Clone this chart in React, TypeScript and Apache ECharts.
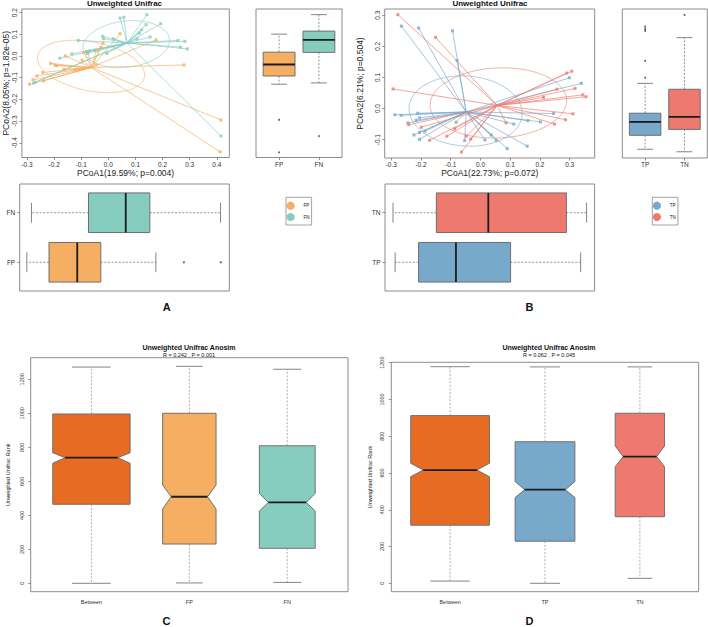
import React, { useEffect, useRef } from "react";
import * as echarts from "echarts";

// ---------- texts & categories ----------
const groupsA = ["FP", "FN"];
const groupsB = ["TP", "TN"];
const anosimGroupsC = ["Between", "FP", "FN"];
const anosimGroupsD = ["Between", "TP", "TN"];
const panelLetters = ["A", "B", "C", "D"];
const pcoaTitle = "Unweighted Unifrac";
const anosimTitle = "Unweighted Unifrac Anosim";
const anosimStatsC = "R = 0.242 , P = 0.001";
const anosimStatsD = "R = 0.062 , P = 0.045";
const pc1LabelA = "PCoA1(19.59%; p=0.004)";
const pc2LabelA = "PCoA2(8.05%; p=1.82e-05)";
const pc1LabelB = "PCoA1(22.73%; p=0.072)";
const pc2LabelB = "PCoA2(6.21%; p=0.504)";
const rankLabel = "Unweighted Unifrac Rank";

// ---------- tick labels ----------
const ticksAX = [-0.3, -0.2, -0.1, 0, 0.1, 0.2, 0.3, 0.4];
const ticksAY = [-0.4, -0.3, -0.2, -0.1, 0, 0.1, 0.2];
const ticksBX = [-0.3, -0.2, -0.1, 0, 0.1, 0.2, 0.3];
const ticksBY = [-0.1, 0, 0.1, 0.2, 0.3];
const rankTicks = [0, 200, 400, 600, 800, 1000, 1200];

// ---------- panel A: PCoA points ----------
const fpPoints = [
  [0.043, 0.103], [0.176, 0.075], [-0.020, 0.060], [-0.028, 0.040], [-0.045, 0.025],
  [-0.076, 0.018], [-0.090, 0.016], [-0.096, -0.020], [-0.159, 0.001], [-0.213, -0.034],
  [-0.198, -0.041], [-0.191, -0.045], [-0.164, -0.061], [-0.124, -0.064], [-0.111, -0.061],
  [-0.094, -0.059], [-0.045, -0.041], [-0.242, -0.076], [-0.264, -0.092], [-0.278, -0.110],
  [-0.291, -0.130], [-0.240, -0.115], [0.279, -0.041], [0.415, -0.295], [0.412, -0.442],
];
const fnPoints = [
  [0.043, 0.175], [0.057, 0.179], [0.142, 0.191], [0.193, 0.149], [0.139, 0.145],
  [0.123, 0.121], [0.114, 0.106], [0.154, 0.088], [0.106, 0.080], [0.257, 0.072],
  [0.282, 0.068], [0.266, 0.041], [0.291, 0.033], [0.415, -0.369], [-0.111, 0.072],
  [-0.021, 0.091], [-0.018, 0.080], [0.018, 0.080], [-0.069, 0.024], [-0.081, 0.021],
  [-0.077, 0.012], [-0.135, 0.010], [-0.006, 0.012], [-0.179, -0.010], [-0.276, -0.125],
  [-0.269, -0.121], [-0.050, 0.028],
];
const fpCentroid = [-0.063, -0.053];
const fnCentroid = [0.069, 0.060];
// ellipse: centre x, centre y, axis-1 vector (x,y), axis-2 vector (x,y)
const fpEllipse = [-0.064, -0.048, 0.197, -0.030, -0.015, 0.117];
const fnEllipse = [0.066, 0.055, 0.159, 0.005, 0.017, 0.108];

// box stats: [lower whisker, Q1, median, Q3, upper whisker]
const fpBoxPC2 = [-0.130, -0.092, -0.039, 0.018, 0.101];
const fnBoxPC2 = [-0.124, 0.017, 0.075, 0.115, 0.191];
const fpOutPC2 = [-0.294, -0.444];
const fnOutPC2 = [-0.369];
const fpBoxPC1 = [-0.293, -0.212, -0.109, -0.023, 0.178];
const fnBoxPC1 = [-0.276, -0.068, 0.068, 0.156, 0.414];
const fpOutPC1 = [0.280, 0.415];
const fnOutPC1: number[] = [];

// ---------- panel B: PCoA points ----------
const tpPoints = [
  [-0.266, 0.265], [-0.208, 0.259], [-0.094, 0.250], [-0.079, 0.155], [-0.288, -0.020],
  [-0.267, -0.022], [-0.211, -0.015], [-0.205, -0.030], [-0.216, -0.038], [-0.244, -0.046],
  [-0.187, -0.073], [-0.205, -0.077], [-0.224, -0.085], [-0.205, -0.099], [-0.082, -0.044],
  [-0.053, -0.103], [0.036, -0.085], [0.015, -0.101], [0.299, 0.099], [0.339, 0.081],
  [0.246, -0.016], [0.202, -0.043], [0.159, -0.039], [0.112, -0.050], [0.157, -0.121],
  [0.090, -0.129], [0.053, -0.103],
];
const tnPoints = [
  [-0.278, 0.302], [-0.151, 0.229], [-0.294, 0.063], [-0.241, -0.052], [-0.199, -0.060],
  [-0.171, -0.102], [-0.113, -0.089], [-0.087, -0.065], [-0.064, -0.140], [-0.048, -0.089],
  [-0.033, -0.098], [0.290, 0.114], [0.307, 0.120], [0.318, 0.065], [0.344, 0.044],
  [0.355, 0.038], [0.257, 0.062], [0.212, 0.036], [0.311, -0.017], [0.286, -0.036],
  [0.249, -0.050], [0.086, -0.046],
];
const tpCentroid = [-0.048, -0.011];
const tnCentroid = [0.056, 0.010];
const tpEllipse = [-0.050, -0.008, 0.190, -0.003, -0.008, 0.113];
const tnEllipse = [0.060, 0.018, 0.229, 0.0, 0.015, 0.113];

const tpBoxPC2 = [-0.131, -0.086, -0.043, -0.015, 0.081];
const tnBoxPC2 = [-0.139, -0.067, -0.027, 0.062, 0.228];
const tpOutPC2 = [0.099, 0.153, 0.250, 0.255, 0.263];
const tnOutPC2 = [0.301];
const tpBoxPC1 = [-0.288, -0.209, -0.083, 0.101, 0.337];
const tnBoxPC1 = [-0.295, -0.149, 0.026, 0.289, 0.357];

// ---------- panels C, D: ANOSIM ranks ----------
const betweenRankC = [0, 465, 739, 996, 1272];
const fpRankC = [2, 231, 509, 1000, 1276];
const fnRankC = [5, 206, 476, 809, 1259];
const notchC = [[706, 768], [437, 578], [425, 529]];
const betweenRankD = [12, 316, 616, 912, 1178];
const tpRankD = [0, 229, 509, 770, 1177];
const tnRankD = [27, 362, 689, 925, 1177];
const notchD = [[580, 653], [466, 553], [634, 747]];

// ---------- styles ----------
const C_FP = "#F5AE62";
const C_FN = "#86CDBF";
const C_TP = "#78A9CB";
const C_TN = "#EE7A6F";
const C_BETWEEN = "#E86B24";
const FONT = "'Liberation Sans', Arial, Helvetica, sans-serif";
const FRAME = "#8c8c8c";
const relWidthC = [0.79, 0.545, 0.57];
const relWidthD = [0.83, 0.63, 0.52];

function ellipsePoints(e: number[]) {
  const [cx, cy, ax, ay, bx, by] = e;
  const pts: number[][] = [];
  for (let i = 0; i <= 120; i++) {
    const t = (i / 120) * Math.PI * 2;
    pts.push([cx + ax * Math.cos(t) + bx * Math.sin(t), cy + ay * Math.cos(t) + by * Math.sin(t)]);
  }
  return pts;
}

function makeBoxRenderer(horizontal: boolean, notched: boolean, opt: any) {
  return (params: any, api: any) => {
    const pos = api.value(0);
    const lo = api.value(1), q1 = api.value(2), med = api.value(3), q3 = api.value(4), hi = api.value(5);
    const w = api.value(6);
    const P = (o: number, v: number) => (horizontal ? api.coord([v, pos + o]) : api.coord([pos + o, v]));
    const half = w / 2;
    const ins = notched ? half * opt.notchFrac : 0;
    const color = api.visual("color");
    let pts: number[][];
    if (notched) {
      const n1 = api.value(7), n2 = api.value(8);
      pts = [P(-half, q1), P(half, q1), P(half, n1), P(half - ins, med), P(half, n2), P(half, q3),
        P(-half, q3), P(-half, n2), P(-half + ins, med), P(-half, n1)];
    } else {
      pts = [P(-half, q1), P(half, q1), P(half, q3), P(-half, q3)];
    }
    const seg = (a: number[], b: number[], style: any) => ({
      type: "line", shape: { x1: a[0], y1: a[1], x2: b[0], y2: b[1] }, style,
    });
    const wStyle = { stroke: opt.whisker, lineWidth: 0.8, lineDash: [2, 1.6] };
    const cStyle = { stroke: opt.cap, lineWidth: 0.9 };
    return {
      type: "group",
      children: [
        seg(P(0, q3), P(0, hi), wStyle),
        seg(P(0, q1), P(0, lo), wStyle),
        seg(P(-half / 2, hi), P(half / 2, hi), cStyle),
        seg(P(-half / 2, lo), P(half / 2, lo), cStyle),
        { type: "polygon", shape: { points: pts }, style: { fill: color, stroke: opt.border, lineWidth: 1 } },
        seg(P(-half + ins, med), P(half - ins, med), { stroke: "#1c1c1c", lineWidth: 1.8 }),
      ],
    };
  };
}

const grids = [
  { left: 19.7, top: 9, width: 209.6, height: 148.5 }, // 0 A scatter
  { left: 256, top: 9, width: 86, height: 148.5 }, // 1 A side box
  { left: 19.7, top: 184, width: 209.6, height: 107 }, // 2 A bottom box
  { left: 384.7, top: 9, width: 210, height: 149 }, // 3 B scatter
  { left: 622.3, top: 9, width: 85, height: 149 }, // 4 B side box
  { left: 385, top: 184, width: 209.6, height: 107 }, // 5 B bottom box
  { left: 30.7, top: 357.7, width: 317.3, height: 234 }, // 6 C
  { left: 391.3, top: 362.3, width: 307.4, height: 229.4 }, // 7 D
].map((g) => ({ ...g, show: true, borderColor: FRAME, borderWidth: 1, backgroundColor: "transparent" }));

function axis(gridIndex: number, min: number, max: number, extra: any = {}) {
  return {
    type: "value", gridIndex, min, max,
    splitLine: { show: false }, axisLine: { show: false, onZero: false },
    axisTick: { show: false }, axisLabel: { show: false },
    ...extra,
  };
}
function ticks(values: number[], fmt: (v: number) => string, o: any = {}) {
  return {
    axisTick: { show: true, customValues: values, length: o.len ?? 2.5, lineStyle: { color: "#666", width: 0.7 } },
    axisLabel: {
      show: true, customValues: values, formatter: fmt, rotate: o.rotate ?? 0, margin: o.margin ?? 3,
      fontSize: o.fontSize ?? 6.5, color: "#333", fontFamily: FONT,
    },
  };
}
const f1 = (v: number) => v.toFixed(1);
const fi = (v: number) => String(Math.round(v));
const nameStyle = (size: number) => ({ fontSize: size, color: "#222", fontFamily: FONT });

function buildOption() {
  const xAxis = [
    axis(0, -0.319, 0.446, { ...ticks(ticksAX, f1), name: pc1LabelA, nameLocation: "middle", nameGap: 10, nameTextStyle: nameStyle(8.5) }),
    axis(1, 0.42, 2.58, ticks([1, 2], (v) => groupsA[Math.round(v) - 1])),
    axis(2, -0.319, 0.446),
    axis(3, -0.322, 0.384, { ...ticks(ticksBX, f1), name: pc1LabelB, nameLocation: "middle", nameGap: 10, nameTextStyle: nameStyle(8.5) }),
    axis(4, 0.42, 2.58, ticks([1, 2], (v) => groupsB[Math.round(v) - 1])),
    axis(5, -0.322, 0.384),
    axis(6, 0.38, 3.62, ticks([1, 2, 3], (v) => anosimGroupsC[Math.round(v) - 1], { fontSize: 5.5, margin: 7, len: 0 })),
    axis(7, 0.38, 3.62, ticks([1, 2, 3], (v) => anosimGroupsD[Math.round(v) - 1], { fontSize: 5.5, margin: 7, len: 0 })),
  ];
  const yAxis = [
    axis(0, -0.468, 0.217, { ...ticks(ticksAY, f1, { rotate: 90, margin: 4 }), name: pc2LabelA, nameLocation: "middle", nameGap: 11, nameTextStyle: nameStyle(8.5) }),
    axis(1, -0.468, 0.217),
    axis(2, 0.42, 2.58, ticks([1, 2], (v) => groupsA[Math.round(v) - 1], { margin: 4.5 })),
    axis(3, -0.159, 0.320, { ...ticks(ticksBY, f1, { rotate: 90, margin: 4 }), name: pc2LabelB, nameLocation: "middle", nameGap: 20, nameTextStyle: nameStyle(8.5) }),
    axis(4, -0.159, 0.320),
    axis(5, 0.42, 2.58, ticks([1, 2], (v) => groupsB[Math.round(v) - 1], { margin: 4.5 })),
    axis(6, -49.4, 1327, { ...ticks(rankTicks, fi, { rotate: 90, margin: 6, fontSize: 5.5 }), name: rankLabel, nameLocation: "middle", nameGap: 20, nameTextStyle: nameStyle(5.5) }),
    axis(7, -45.7, 1202, { ...ticks(rankTicks, fi, { rotate: 90, margin: 6, fontSize: 5.5 }), name: rankLabel, nameLocation: "middle", nameGap: 18, nameTextStyle: nameStyle(5.5) }),
  ];

  const series: any[] = [];
  const pcoa = (gi: number, name: string, pts: number[][], cen: number[], ell: number[], color: string) => {
    series.push({
      type: "line", xAxisIndex: gi, yAxisIndex: gi, data: ellipsePoints(ell), symbol: "none", silent: true,
      lineStyle: { color, width: 0.8, opacity: 0.75 }, z: 1,
    });
    series.push({
      type: "lines", coordinateSystem: "cartesian2d", xAxisIndex: gi, yAxisIndex: gi, silent: true,
      data: pts.map((p) => ({ coords: [cen, p] })),
      lineStyle: { color, width: 0.8, opacity: 0.85 }, z: 2,
    });
    series.push({
      type: "scatter", name, xAxisIndex: gi, yAxisIndex: gi, data: pts, symbol: "rect", symbolSize: 3,
      itemStyle: { color }, z: 3,
    });
  };
  pcoa(0, groupsA[0], fpPoints, fpCentroid, fpEllipse, C_FP);
  pcoa(0, groupsA[1], fnPoints, fnCentroid, fnEllipse, C_FN);
  pcoa(3, groupsB[0], tpPoints, tpCentroid, tpEllipse, C_TP);
  pcoa(3, groupsB[1], tnPoints, tnCentroid, tnEllipse, C_TN);

  const smallBoxOpt = { border: "#6f6f6f", whisker: "#777", cap: "#777", notchFrac: 0 };
  const boxSeries = (gi: number, horizontal: boolean, items: any[], notched: boolean, opt: any) => {
    series.push({
      type: "custom", xAxisIndex: gi, yAxisIndex: gi, renderItem: makeBoxRenderer(horizontal, notched, opt),
      data: items, encode: horizontal ? { x: [1, 5], y: 0 } : { x: 0, y: [1, 5] }, silent: true, z: 3,
    });
  };
  const outliers = (gi: number, horizontal: boolean, pos: number, vals: number[]) => {
    if (!vals.length) return;
    series.push({
      type: "scatter", xAxisIndex: gi, yAxisIndex: gi, silent: true, symbolSize: 2,
      itemStyle: { color: "#444" }, z: 4,
      data: vals.map((v) => (horizontal ? [v, pos] : [pos, v])),
    });
  };
  // A side & bottom
  boxSeries(1, false, [
    { value: [1, ...fpBoxPC2, 0.8], itemStyle: { color: C_FP } },
    { value: [2, ...fnBoxPC2, 0.8], itemStyle: { color: C_FN } },
  ], false, smallBoxOpt);
  outliers(1, false, 1, fpOutPC2);
  outliers(1, false, 2, fnOutPC2);
  boxSeries(2, true, [
    { value: [1, ...fpBoxPC1, 0.8], itemStyle: { color: C_FP } },
    { value: [2, ...fnBoxPC1, 0.8], itemStyle: { color: C_FN } },
  ], false, smallBoxOpt);
  outliers(2, true, 1, fpOutPC1);
  outliers(2, true, 2, fnOutPC1);
  // B side & bottom
  boxSeries(4, false, [
    { value: [1, ...tpBoxPC2, 0.8], itemStyle: { color: C_TP } },
    { value: [2, ...tnBoxPC2, 0.8], itemStyle: { color: C_TN } },
  ], false, smallBoxOpt);
  outliers(4, false, 1, tpOutPC2);
  outliers(4, false, 2, tnOutPC2);
  boxSeries(5, true, [
    { value: [1, ...tpBoxPC1, 0.8], itemStyle: { color: C_TP } },
    { value: [2, ...tnBoxPC1, 0.8], itemStyle: { color: C_TN } },
  ], false, smallBoxOpt);

  const bigOpt = { border: "#707070", whisker: "#9a9a9a", cap: "#777", notchFrac: 0.32 };
  const colorsC = [C_BETWEEN, C_FP, C_FN];
  const colorsD = [C_BETWEEN, C_TP, C_TN];
  boxSeries(6, false, [betweenRankC, fpRankC, fnRankC].map((s, i) => ({
    value: [i + 1, ...s, relWidthC[i], ...notchC[i]], itemStyle: { color: colorsC[i] },
  })), true, bigOpt);
  boxSeries(7, false, [betweenRankD, tpRankD, tnRankD].map((s, i) => ({
    value: [i + 1, ...s, relWidthD[i], ...notchD[i]], itemStyle: { color: colorsD[i] },
  })), true, bigOpt);

  const txt = (x: number, y: number, text: string, size: number, bold = false, align = "center") => ({
    type: "text", x, y, silent: true,
    style: { text, fontSize: size, fontWeight: bold ? "bold" : "normal", fill: "#111", align, verticalAlign: "middle", fontFamily: FONT },
  });
  const legendBox = (x: number, y: number, names: string[], colors: string[]) => [
    { type: "rect", shape: { x, y, width: 25.6, height: 27.7 }, style: { fill: "#fff", stroke: "#8c8c8c", lineWidth: 0.8 }, silent: true },
    ...names.map((n, i) => ({ type: "circle", shape: { cx: x + 4.6, cy: y + 8.4 + i * 11.3, r: 4.1 }, style: { fill: colors[i] }, silent: true })),
    ...names.map((n, i) => ({ ...txt(x + 17.4, y + 8.4 + i * 11.3, n, 4.5, false, "left") })),
  ];

  const graphic = [
    txt(124.5, 3.5, pcoaTitle, 8, true),
    txt(490, 3.5, pcoaTitle, 8, true),
    txt(189, 347.7, anosimTitle, 7, true),
    txt(189, 354.6, anosimStatsC, 5.5),
    txt(549, 347.7, anosimTitle, 7, true),
    txt(549, 354.6, anosimStatsD, 5.5),
    txt(166.7, 307, panelLetters[0], 11, true),
    txt(529.5, 307, panelLetters[1], 11, true),
    txt(166.5, 621, panelLetters[2], 11, true),
    txt(529.5, 621, panelLetters[3], 11, true),
    ...legendBox(286, 197.3, groupsA, [C_FP, C_FN]),
    ...legendBox(652.3, 197.3, groupsB, [C_TP, C_TN]),
  ];

  return {
    animation: false,
    backgroundColor: "#fff",
    textStyle: { fontFamily: FONT },
    grid: grids,
    xAxis,
    yAxis,
    series,
    graphic,
  };
}

export default function App() {
  const ref = useRef<HTMLDivElement>(null);
  useEffect(() => {
    const chart = echarts.init(ref.current!, null, { renderer: "svg" });
    chart.setOption(buildOption() as any);
    return () => chart.dispose();
  }, []);
  return (
    <div
      ref={ref}
      style={{ position: "fixed", left: 0, top: 0, width: 708, height: 627, background: "#fff" }}
    />
  );
}
